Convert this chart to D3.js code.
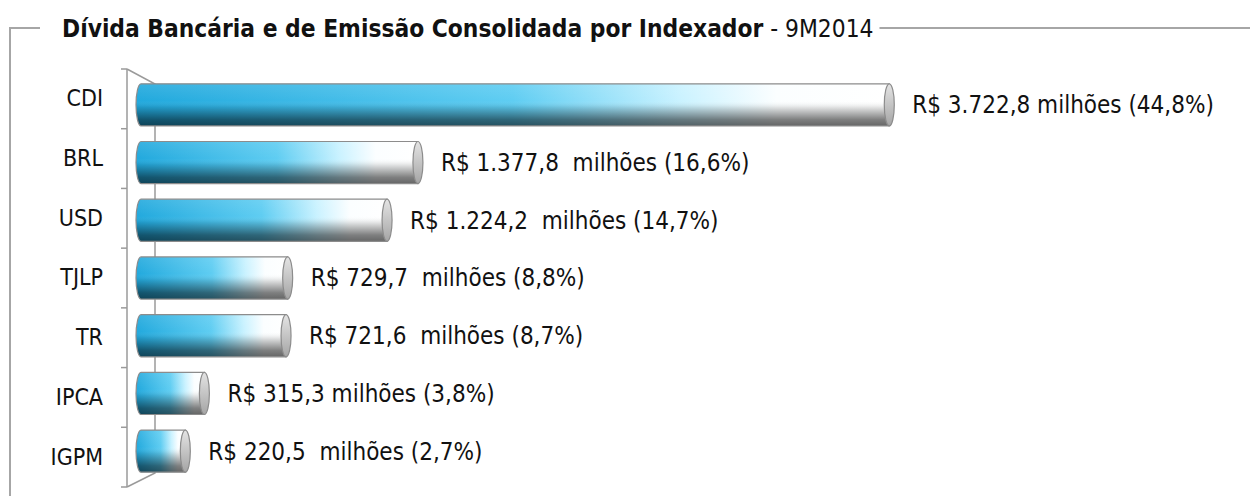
<!DOCTYPE html>
<html>
<head>
<meta charset="utf-8">
<style>
  body { margin: 0; background: #fff; }
  text { font-family: "DejaVu Sans Condensed", "DejaVu Sans", sans-serif; fill: #111; }
</style>
</head>
<body>
<script src="https://cdn.jsdelivr.net/npm/d3@7"></script>
<script>
// data
var categories = ["CDI", "BRL", "USD", "TJLP", "TR", "IPCA", "IGPM"];
var values = [3722.8, 1377.8, 1224.2, 729.7, 721.6, 315.3, 220.5];
var labels = [
  "R$ 3.722,8 milhões (44,8%)",
  "R$ 1.377,8  milhões (16,6%)",
  "R$ 1.224,2  milhões (14,7%)",
  "R$ 729,7  milhões (8,8%)",
  "R$ 721,6  milhões (8,7%)",
  "R$ 315,3 milhões (3,8%)",
  "R$ 220,5  milhões (2,7%)"
];
var titleBold = "Dívida Bancária e de Emissão Consolidada por Indexador";
var titleRest = " - 9M2014";

var width = 1250, height = 496;

var svg = d3.select("body").append("svg")
  .attr("width", width)
  .attr("height", height);

var defs = svg.append("defs");

// horizontal colour: blue to white
var gH = defs.append("linearGradient").attr("id", "barH")
  .attr("x1", 0).attr("y1", 0).attr("x2", 1).attr("y2", 0);
gH.append("stop").attr("offset", "0%").attr("stop-color", "#22a9dd");
gH.append("stop").attr("offset", "50%").attr("stop-color", "#5fcdf2");
gH.append("stop").attr("offset", "72%").attr("stop-color", "#c9f2ff");
gH.append("stop").attr("offset", "85%").attr("stop-color", "#fbfeff");
gH.append("stop").attr("offset", "100%").attr("stop-color", "#ffffff");

// vertical shading to make it look like a cylinder
var gV = defs.append("linearGradient").attr("id", "barV")
  .attr("x1", 0).attr("y1", 0).attr("x2", 0).attr("y2", 1);
gV.append("stop").attr("offset", "0%").attr("stop-color", "#fff").attr("stop-opacity", 0.1);
gV.append("stop").attr("offset", "40%").attr("stop-color", "#fff").attr("stop-opacity", 0);
gV.append("stop").attr("offset", "55%").attr("stop-color", "#000").attr("stop-opacity", 0.1);
gV.append("stop").attr("offset", "85%").attr("stop-color", "#000").attr("stop-opacity", 0.5);
gV.append("stop").attr("offset", "100%").attr("stop-color", "#000").attr("stop-opacity", 0.6);

var gCap = defs.append("linearGradient").attr("id", "cap")
  .attr("x1", 0).attr("y1", 0).attr("x2", 0).attr("y2", 1);
gCap.append("stop").attr("offset", "0%").attr("stop-color", "#e4e4e4");
gCap.append("stop").attr("offset", "100%").attr("stop-color", "#a5a5a5");

// frame round the chart
var frame = "#a6a6a6";
svg.append("path")
  .attr("d", "M10,496 V28 H40")
  .attr("fill", "none").attr("stroke", frame).attr("stroke-width", 2);

var title = svg.append("text")
  .attr("x", 62).attr("y", 37)
  .style("font-size", "24.3px");
title.append("tspan").style("font-weight", "bold").text(titleBold);
title.append("tspan").text(titleRest);
var tEnd = 62 + title.node().getComputedTextLength();
svg.append("line")
  .attr("x1", tEnd + 6).attr("x2", width).attr("y1", 28).attr("y2", 28)
  .attr("stroke", frame).attr("stroke-width", 2);

// scales
var yFront = d3.scaleBand().domain(categories).range([69, 487]);
var yBar = d3.scaleBand().domain(categories).range([76, 480])
  .paddingInner(0.27).paddingOuter(0.135);
var x = d3.scaleLinear().domain([0, 4000]).range([141, 141 + 0.201 * 4000]);

// 3d walls
var axisCol = "#9a9a9a";
var xf = 127, xb = 155;
svg.append("path")
  .attr("d", "M" + xf + ",69 L" + xb + ",84 V473 L" + xf + ",487")
  .attr("fill", "none").attr("stroke", axisCol).attr("stroke-width", 1.5);

var axis = d3.axisLeft(yFront).tickSize(0).tickPadding(24);
var gA = svg.append("g").attr("transform", "translate(" + xf + ",0)").call(axis);
gA.select(".domain").attr("stroke", axisCol).attr("stroke-width", 1.5)
  .attr("d", "M0,69V487");
gA.selectAll(".tick text")
  .style("font-size", "23px")
  .style("font-family", "'DejaVu Sans Condensed', 'DejaVu Sans', sans-serif")
  .attr("fill", "#111");
// ticks sit on the band edges
var edges = categories.map(function (c) { return yFront(c); }).concat([yFront.range()[1]]);
gA.selectAll(".edge").data(edges).join("line")
  .attr("class", "edge")
  .attr("x1", -6).attr("x2", 0)
  .attr("y1", function (d) { return d; }).attr("y2", function (d) { return d; })
  .attr("stroke", axisCol).attr("stroke-width", 1.5);

// bars
var rx = 5;
var rows = categories.map(function (c, i) {
  return { cat: c, value: values[i], label: labels[i] };
});
var bar = svg.selectAll(".bar").data(rows).join("g").attr("class", "bar");

function bodyPath(d) {
  var x0 = x(0), x1 = x(d.value), y0 = yBar(d.cat), h = yBar.bandwidth();
  return "M" + x1 + "," + y0 + " H" + x0 +
    " A" + rx + "," + (h / 2) + " 0 0 0 " + x0 + "," + (y0 + h) +
    " H" + x1 + " Z";
}
bar.append("path").attr("d", bodyPath).attr("fill", "url(#barH)");
bar.append("path").attr("d", bodyPath).attr("fill", "url(#barV)")
  .attr("stroke", "#8c8c8c").attr("stroke-width", 1.2);
bar.append("ellipse")
  .attr("cx", function (d) { return x(d.value); })
  .attr("cy", function (d) { return yBar(d.cat) + yBar.bandwidth() / 2; })
  .attr("rx", rx)
  .attr("ry", yBar.bandwidth() / 2)
  .attr("fill", "url(#cap)")
  .attr("stroke", "#8c8c8c").attr("stroke-width", 1.2);

bar.append("text")
  .attr("x", function (d) { return x(d.value) + rx + 18; })
  .attr("y", function (d) { return yBar(d.cat) + yBar.bandwidth() / 2; })
  .attr("dy", "0.35em")
  .style("font-size", "24px")
  .style("white-space", "pre")
  .text(function (d) { return d.label; });
</script>
</body>
</html>
